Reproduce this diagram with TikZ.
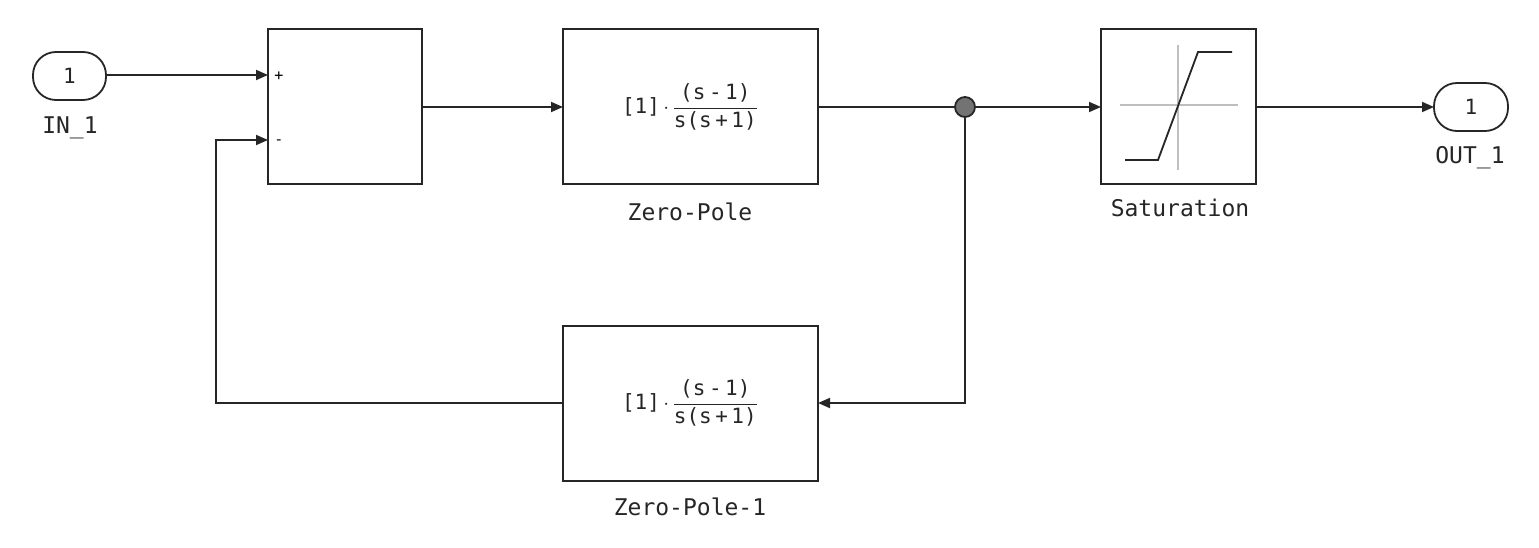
\documentclass[tikz,border=0pt]{standalone}
\usepackage{amsmath}
\usepackage{fontspec}
\setmonofont{DejaVu Sans Mono}
\usetikzlibrary{arrows.meta}
\begin{document}
\begin{tikzpicture}[x=1pt,y=-1pt,
  blk/.style={draw=black!85,line width=1.8pt,fill=white},
  port/.style={draw=black!85,line width=1.8pt,rounded corners=23pt},
  wire/.style={draw=black!85,line width=1.8pt,-{Triangle[length=12pt,width=10pt]}},
  plain/.style={draw=black!85,line width=1.8pt},
  lab/.style={font=\ttfamily\fontsize{23}{27}\selectfont,text=black!85},
  frm/.style={font=\ttfamily\fontsize{21}{25}\selectfont,text=black!85}]
\useasboundingbox (0,0) rectangle (1539,548);
% ports
\draw[port] (33,52) rectangle (106,100);
\node[frm] (in) at (69.5,76) {1};
\node[lab] at (70,128) {IN\_1};
\coordinate (inr) at (106,75);
\draw[port] (1434,83) rectangle (1508,131);
\coordinate (outl) at (1434,107);
\node[frm] at (1471,107) {1};
\node[lab] at (1470,158) {OUT\_1};
% sum
\draw[blk] (268,29) rectangle (422,184);
\coordinate (sp) at (268,75);
\coordinate (sm) at (268,140);
\coordinate (so) at (422,107);
\node[font=\ttfamily\fontsize{15}{18}\selectfont] at (279,76) {+};
\node[font=\ttfamily\fontsize{15}{18}\selectfont] at (279,142) {-};
% zero-pole
\draw[blk] (563,29) rectangle (818,184);
\node[frm] (zp) at (690,107) {[1]\,$\cdot$\,$\dfrac{\texttt{(s\,-\,1)}}{\texttt{s(s\,+\,1)}}$};
\coordinate (zpi) at (563,107);
\coordinate (zpo) at (818,107);
\node[lab] at (690,212) {Zero-Pole};
% zero-pole-1
\draw[blk] (563,326) rectangle (818,481);
\node[frm] (zp1) at (690,403) {[1]\,$\cdot$\,$\dfrac{\texttt{(s\,-\,1)}}{\texttt{s(s\,+\,1)}}$};
\coordinate (zp1i) at (818,403);
\coordinate (zp1o) at (563,403);
\node[lab] at (690,507) {Zero-Pole-1};
% saturation
\draw[blk] (1101,29) rectangle (1256,184);
\draw[black!25,line width=1.8pt] (1120,105) -- (1238,105) (1178,45) -- (1178,170);
\draw[plain] (1125,160) -- (1158,160) -- (1198,52) -- (1232,52);
\coordinate (sati) at (1101,107);
\coordinate (sato) at (1256,107);
\node[lab] at (1180,208) {Saturation};
% branch
\coordinate (br) at (965,107);
% wires
\draw[wire] (inr) -- (sp);
\draw[wire] (so) -- (zpi);
\draw[plain] (zpo) -- (br);
\draw[wire] (br) -- (sati);
\draw[wire] (sato) -- (outl);
\draw[wire] (br) |- (zp1i);
\draw[wire] (zp1o) -- (216,403) |- (sm);
\node[circle,draw=black!85,line width=1.8pt,fill=black!55,minimum size=20pt,inner sep=0pt] at (br) {};
\end{tikzpicture}
\end{document}
